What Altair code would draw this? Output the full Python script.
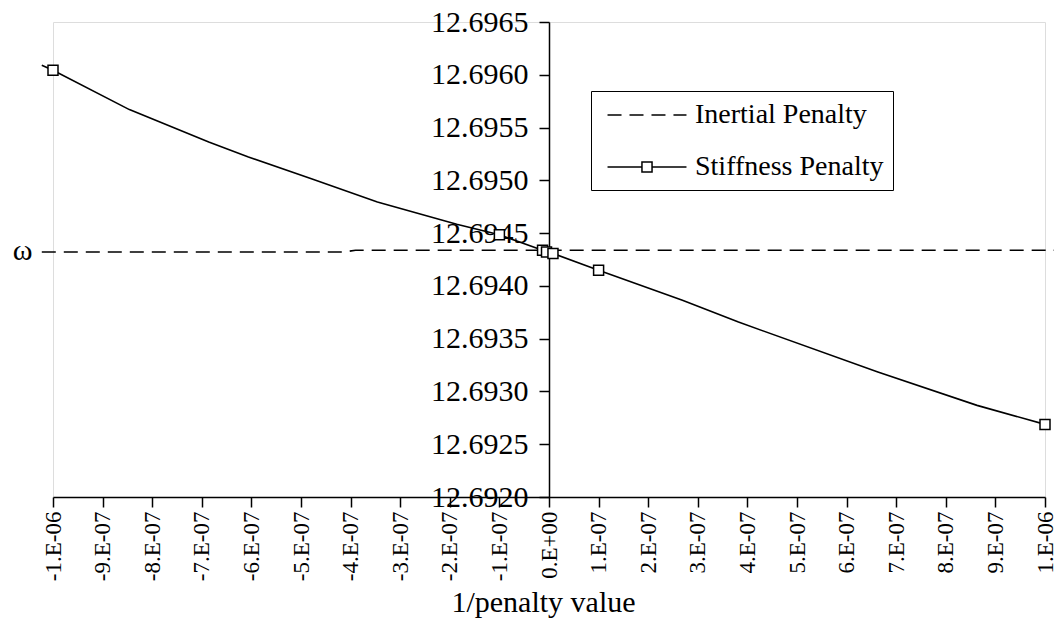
import json
import altair as alt
import pandas as pd

# ---- data ----
series_names = ["Inertial Penalty", "Stiffness Penalty"]

stiff_x = [-1.0226e-6, -1.0e-6, -8.46e-7, -6.86e-7, -6.06e-7, -4.79e-7, -3.46e-7, -1.86e-7,
           -1.0e-7, -1.3e-8, -5e-9, 8e-9, 1.0e-7, 2.69e-7, 3.82e-7, 6.63e-7, 8.63e-7, 1.0e-6]
stiff_y = [12.696090, 12.696042, 12.695670, 12.695363, 12.695221, 12.695016, 12.694794, 12.694583,
           12.694485, 12.694337, 12.694321, 12.694308, 12.694147, 12.693863, 12.693657, 12.693184,
           12.692868, 12.692688]

marker_x = [-1.0e-6, -1.0e-7, -1.3e-8, -5e-9, 8e-9, 1.0e-7, 1.0e-6]
marker_y = [12.696042, 12.694485, 12.694337, 12.694321, 12.694308, 12.694147, 12.692688]

inert_x = [-1.0226e-6, -4.15e-7, -3.9e-7, 1.03e-6]
inert_y = [12.694321, 12.694321, 12.694337, 12.694337]

x_tick_values = [i * 1e-7 for i in range(-10, 11)]
x_tick_labels = ["-1.E-06", "-9.E-07", "-8.E-07", "-7.E-07", "-6.E-07", "-5.E-07", "-4.E-07",
                 "-3.E-07", "-2.E-07", "-1.E-07", "0.E+00", "1.E-07", "2.E-07", "3.E-07",
                 "4.E-07", "5.E-07", "6.E-07", "7.E-07", "8.E-07", "9.E-07", "1.E-06"]
y_tick_values = [12.6920, 12.6925, 12.6930, 12.6935, 12.6940, 12.6945, 12.6950, 12.6955,
                 12.6960, 12.6965]

x_title = "1/penalty value"
y_title = "ω"

FONT = "Liberation Serif"

stiff_df = pd.DataFrame({"x": stiff_x, "y": stiff_y})
marker_df = pd.DataFrame({"x": marker_x, "y": marker_y})
inert_df = pd.DataFrame({"x": inert_x, "y": inert_y})
legend_df = pd.DataFrame({"x": [5e-6, 5e-6], "y": [12.6943, 12.6943], "series": series_names})

W, H = 992, 475

x_enc = alt.X(
    "x:Q",
    scale=alt.Scale(domain=[-1e-6, 1e-6], nice=False, zero=False),
    axis=alt.Axis(
        title=x_title, values=x_tick_values,
        labelExpr=json.dumps(x_tick_labels) + "[round(datum.value * 1e7) + 10]",
        labelAngle=-90, labelFontSize=23, labelFont=FONT, labelColor="black",
        labelPadding=4, labelFlush=False, labelOverlap=False,
        tickSize=10, tickColor="black", tickWidth=1.5,
        domainColor="black", domainWidth=1.5, grid=False,
        titleFont=FONT, titleFontSize=30, titleFontWeight="normal", titleColor="black",
        titleX=490, titleY=114, titleBaseline="alphabetic", titleAlign="center",
    ),
)
y_enc = alt.Y(
    "y:Q",
    scale=alt.Scale(domain=[12.692, 12.6965], nice=False, zero=False),
    axis=alt.Axis(
        title=y_title, values=y_tick_values, format=".4f",
        offset=-W / 2, labelFontSize=30, labelFont=FONT, labelColor="black",
        labelPadding=11, labelOverlap=False, labelFlush=False,
        tickSize=10, tickColor="black", tickWidth=1.5,
        domainColor="black", domainWidth=1.5, grid=False,
        titleFont=FONT, titleFontSize=30, titleFontWeight="normal", titleColor="black",
        titleAngle=0, titleX=-527, titleY=228, titleAlign="center", titleBaseline="middle",
    ),
)

inert_line = alt.Chart(inert_df).mark_line(
    color="black", strokeWidth=1.6, strokeDash=[14, 8], clip=False
).encode(x=x_enc, y=y_enc)

stiff_line = alt.Chart(stiff_df).mark_line(
    color="black", strokeWidth=1.6, clip=False
).encode(x=x_enc, y=y_enc)

markers = alt.Chart(marker_df).mark_point(
    shape="square", size=100, filled=True, fill="white", stroke="black",
    strokeWidth=1.5, opacity=1, clip=False
).encode(x=x_enc, y=y_enc)

dash_path = "M-2.82,0L-1.82,0M-1.25,0L-0.25,0M0.32,0L1.32,0M1.89,0L2.82,0"
stiff_path = "M-2.82,0L-0.36,0M0.36,0L2.82,0M-0.36,-0.36L0.36,-0.36L0.36,0.36L-0.36,0.36Z"

legend_layer = alt.Chart(legend_df).mark_point(
    filled=False, color="black", strokeWidth=1.5, opacity=1, clip=True
).encode(
    x=x_enc, y=y_enc,
    shape=alt.Shape(
        "series:N",
        scale=alt.Scale(domain=series_names, range=[dash_path, stiff_path]),
        legend=alt.Legend(
            orient="none", legendX=538, legendY=69, title=None,
            symbolSize=784, symbolStrokeColor="black", symbolFillColor="white",
            symbolStrokeWidth=1.5, symbolOpacity=1, symbolOffset=32,
            labelFont=FONT, labelFontSize=28, labelColor="black", labelOffset=33,
            labelLimit=500, padding=9, rowPadding=23,
            strokeColor="black", fillColor="white", cornerRadius=0,
        ),
    ),
)

chart = alt.layer(inert_line, stiff_line, markers, legend_layer).properties(
    width=W, height=H,
    autosize=alt.AutoSizeParams(type="none"),
    padding={"left": 45, "top": 14, "right": 9, "bottom": 122},
).configure_view(
    stroke="black", strokeWidth=1.5
).configure(
    font=FONT
)

chart.save("out.html", embed_options={"renderer": "svg", "actions": False})
